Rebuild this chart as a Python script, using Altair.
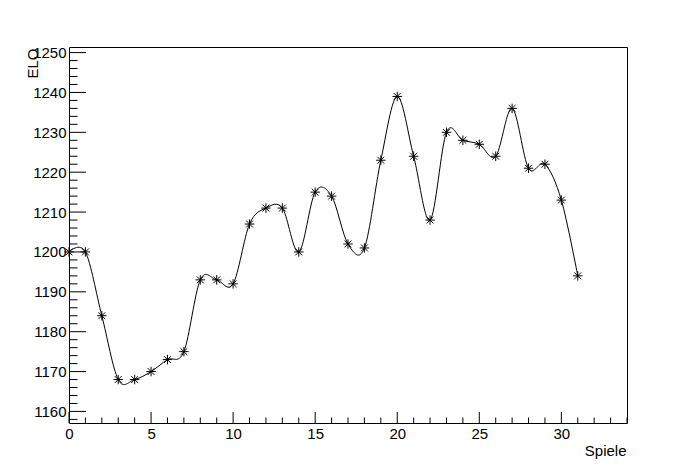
import altair as alt
import pandas as pd

games = [0, 1, 2, 3, 4, 5, 6, 7, 8, 9, 10, 11, 12, 13, 14, 15,
         16, 17, 18, 19, 20, 21, 22, 23, 24, 25, 26, 27, 28, 29, 30, 31]
elo = [1200, 1200, 1184, 1168, 1168, 1170, 1173, 1175, 1193, 1193, 1192, 1207,
       1211, 1211, 1200, 1215, 1214, 1202, 1201, 1223, 1239, 1224, 1208, 1230,
       1228, 1227, 1224, 1236, 1221, 1222, 1213, 1194]

x_major = [0, 5, 10, 15, 20, 25, 30]
x_minor = [1, 2, 3, 4, 6, 7, 8, 9, 11, 12, 13, 14, 16, 17, 18, 19, 21, 22, 23, 24,
           26, 27, 28, 29, 31, 32, 33, 34]
y_major = [1160, 1170, 1180, 1190, 1200, 1210, 1220, 1230, 1240, 1250]
y_minor = [1158, 1162, 1164, 1166, 1168, 1172, 1174, 1176, 1178, 1182, 1184, 1186, 1188,
           1192, 1194, 1196, 1198, 1202, 1204, 1206, 1208, 1212, 1214, 1216, 1218,
           1222, 1224, 1226, 1228, 1232, 1234, 1236, 1238, 1242, 1244, 1246, 1248]

W, H = 558, 376
FONT = "Liberation Sans"

df = pd.DataFrame({"Spiele": games, "ELO": elo})

xscale = alt.Scale(domain=[0, 34], nice=False, zero=False)
yscale = alt.Scale(domain=[1157.1, 1251.4], nice=False, zero=False)

xaxis = alt.Axis(values=x_major, format="d", grid=False, ticks=False, tickSize=0,
                 domain=False, labelFontSize=15, labelFont=FONT, labelPadding=3,
                 labelFlush=False, labelOverlap=False,
                 labelColor="black", title="Spiele", titleFont=FONT, titleFontSize=15,
                 titleFontWeight="normal", titleColor="black", titleX=W - 1, titleY=32,
                 titleAlign="right", titleBaseline="alphabetic")
yaxis = alt.Axis(values=y_major, format="d", grid=False, ticks=False, tickSize=0,
                 domain=False, labelFontSize=15, labelFont=FONT, labelPadding=3,
                 labelFlush=False, labelOverlap=False,
                 labelColor="black", title="ELO", titleFont=FONT, titleFontSize=15,
                 titleFontWeight="normal", titleColor="black", titleX=-32, titleY=1,
                 titleAngle=-90, titleAlign="right", titleBaseline="alphabetic")

base = alt.Chart(df)

line = base.mark_line(color="black", strokeWidth=1, interpolate="cardinal", tension=0).encode(
    x=alt.X("Spiele:Q", scale=xscale, axis=xaxis),
    y=alt.Y("ELO:Q", scale=yscale, axis=yaxis),
)

star = "M-1,0L1,0M0,-1L0,1M-0.72,-0.72L0.72,0.72M-0.72,0.72L0.72,-0.72"
points = base.mark_point(shape=star, size=90, filled=False, color="black",
                         strokeWidth=1, opacity=1).encode(
    x=alt.X("Spiele:Q", scale=xscale),
    y=alt.Y("ELO:Q", scale=yscale),
)

def yticks(vals, length):
    return alt.Chart(pd.DataFrame({"v": vals})).mark_rule(color="black", strokeWidth=1).encode(
        y=alt.Y("v:Q", scale=yscale),
        x=alt.value(0), x2=alt.value(length))

def xticks(vals, length):
    return alt.Chart(pd.DataFrame({"v": vals})).mark_rule(color="black", strokeWidth=1).encode(
        x=alt.X("v:Q", scale=xscale),
        y=alt.value(H), y2=alt.value(H - length))

chart = alt.layer(
    yticks(y_major, 17), yticks(y_minor, 8.5),
    xticks(x_major, 11), xticks(x_minor, 5.5),
    line, points,
).properties(
    width=W, height=H,
    autosize=alt.AutoSizeParams(type="none"),
    padding={"left": 61, "top": 39, "right": 60, "bottom": 40},
    background="white",
).configure_view(stroke="black", strokeWidth=1)

chart.save("out.html", embed_options={"renderer": "svg", "actions": False})
